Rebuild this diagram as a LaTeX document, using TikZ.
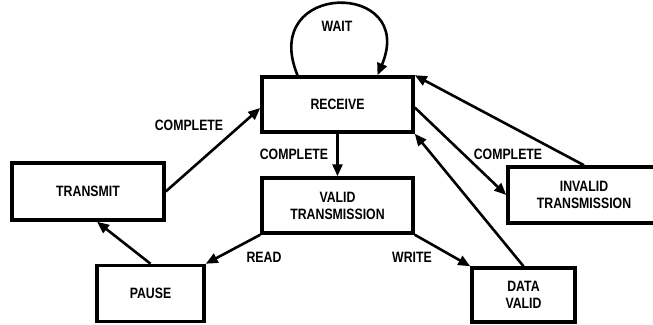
\documentclass[tikz,border=0pt]{standalone}
\usepackage{fontspec}
\setmainfont{Liberation Sans}[FakeStretch=0.82]
\usetikzlibrary{arrows.meta}

\tikzset{
  statebox/.style={draw, line width=3.5pt, align=center, font=\fontsize{15}{17}\selectfont\bfseries, inner sep=0pt},
  flow/.style={line width=2.6pt, -{Triangle[length=12pt,width=10pt]}},
  edgelabel/.style={font=\fontsize{15}{17}\selectfont\bfseries, inner sep=0pt}
}

\begin{document}
\begin{tikzpicture}[x=1pt, y=-1pt]
        \useasboundingbox (0,0) rectangle (653,324);
        \clip (0,0) rectangle (653,324);

        \node (receive) [statebox, minimum width=151pt, minimum height=55pt] at (337.5,104.5) {RECEIVE};
        \node (transmit) [statebox, minimum width=152pt, minimum height=57pt] at (88,191.5) {TRANSMIT};
        \node (pause) [statebox, minimum width=107pt, minimum height=56pt] at (150.5,293.5) {PAUSE};
        \node (valid) [statebox, minimum width=151pt, minimum height=55pt] at (337.5,205.5) {VALID\\TRANSMISSION};
        \node (datavalid) [statebox, minimum width=103pt, minimum height=54pt] at (523.5,295) {DATA\\VALID};
        \node (invalid) [statebox, minimum width=152pt, minimum height=56pt] at (584,195) {INVALID\\TRANSMISSION};

        \node (waitlbl) [edgelabel] at (337,26) {WAIT};
        \node (sendlbl) [edgelabel] at (189,125) {COMPLETE};
        \node (donelbl) [edgelabel] at (294,154) {COMPLETE};
        \node (badlbl) [edgelabel] at (508,154) {COMPLETE};
        \node (readlbl) [edgelabel] at (264,257) {READ};
        \node (writelbl) [edgelabel] at (412,257) {WRITE};

        % transitions
        \draw[flow] ([xshift=-40pt]receive.north) .. controls +(-39,-95) and +(40,-95) .. ([xshift=40pt]receive.north);
        \draw[flow] (transmit.east) -- ([yshift=-3.5pt]receive.west);
        \draw[flow] (receive.south) -- (valid.north);
        \draw[flow] (valid.south west) -- (pause.north east);
        \draw[flow] (pause.north) -- ([xshift=9pt]transmit.south);
        \draw[flow] (valid.south east) -- (datavalid.north west);
        \draw[flow] (datavalid.north) -- (receive.south east);
        \draw[flow] ([yshift=-3pt]receive.east) -- (invalid.west);
        \draw[flow] (invalid.north) -- (receive.north east);
    \end{tikzpicture}
\end{document}
